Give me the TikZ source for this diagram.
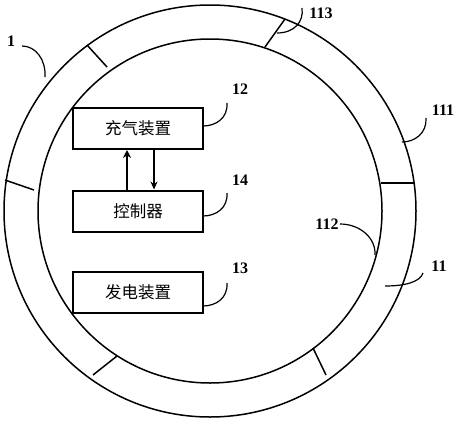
\documentclass[tikz,border=0pt]{standalone}
\usepackage{fontspec}
\setmainfont{Liberation Serif}
\newfontfamily\cjk{Noto Sans CJK SC}
\usetikzlibrary{arrows.meta}
\begin{document}
\begin{tikzpicture}[x=1pt,y=-1pt,
  ring/.style={line width=1.5pt},
  seg/.style={line width=1.5pt},
  lead/.style={line width=1.2pt},
  box/.style={draw,line width=2pt,minimum width=130pt,minimum height=41pt,inner sep=0pt,font=\cjk\fontsize{16.5}{18}\selectfont},
  num/.style={font=\bfseries\fontsize{16}{18}\selectfont,inner sep=0pt}]
\useasboundingbox (0,0) rectangle (470,423);
% ring
\draw[ring] (210,211) circle [radius=206pt];
\draw[ring] (210,211) circle [radius=172pt];
% radial partitions
\draw[seg] (87,45) -- (107,67);
\draw[seg] (285,19) -- (265,47);
\draw[seg] (381,183) -- (415,183);
\draw[seg] (5,180) -- (34,190);
\draw[seg] (93,375) -- (117,356);
\draw[seg] (313,348) -- (326,375);
% boxes
\node[box] (b12) at (138,128.5) {充气装置};
\node[box] (b14) at (138,211) {控制器};
\node[box] (b13) at (138,292.5) {发电装置};
% arrows
\draw[line width=2.6pt,-{Stealth[length=8pt,width=8pt]}] ([xshift=-11pt]b14.north) -- ([xshift=-11pt]b12.south);
\draw[line width=1.3pt,-{Stealth[length=8pt,width=7pt]}] ([xshift=16pt]b12.south) -- ([xshift=16pt]b14.north);
% labels
\node[num] (l1) at (11,41) {1};
\node[num] (l113) at (321,13) {113};
\node[num] (l12) at (240,89) {12};
\node[num] (l14) at (240,180) {14};
\node[num] (l13) at (240,268) {13};
\node[num] (l111) at (443,110) {111};
\node[num] (l112) at (327,224) {112};
\node[num] (l11) at (439,266) {11};
% leaders
\draw[lead] (22,46) .. controls (36,46) and (46,60) .. (45,77);
\draw[lead] (302,8) .. controls (304,22) and (294,33) .. (277,33);
\draw[lead] (227,103) .. controls (228,118) and (216,126) .. (203,126);
\draw[lead] (227,193) .. controls (228,208) and (216,216) .. (203,216);
\draw[lead] (227,283) .. controls (228,298) and (216,306) .. (203,306);
\draw[lead] (426,118) .. controls (427,133) and (415,142) .. (402,142);
\draw[lead] (340,224) .. controls (360,224) and (376,238) .. (375,255);
\draw[lead] (423,273) .. controls (420,282) and (405,286) .. (385,286);
\end{tikzpicture}
\end{document}
